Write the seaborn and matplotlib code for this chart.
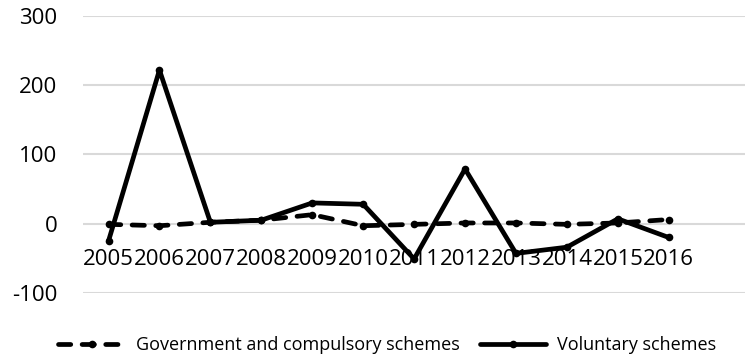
import matplotlib
matplotlib.use("Agg")
import matplotlib.pyplot as plt
import seaborn as sns
import pandas as pd

years = ["2005", "2006", "2007", "2008", "2009", "2010",
         "2011", "2012", "2013", "2014", "2015", "2016"]
government = [-1, -3, 2, 5, 13, -3, -1, 1, 1, -1, 1, 6]
voluntary = [-25, 222, 2, 5, 30, 28, -51, 79, -43, -34, 7, -20]
series_names = ["Government and compulsory schemes", "Voluntary schemes"]
y_ticks = [-100, 0, 100, 200, 300]

sns.set_theme(style="white")
plt.rcParams["font.family"] = ["Open Sans", "DejaVu Sans"]

df = pd.DataFrame({"year": years, "gov": government, "vol": voluntary})

fig = plt.figure(figsize=(7.55, 3.58), dpi=100)
ax = fig.add_axes([0.11, 0.182, 0.877, 0.773])

for y in y_ticks:
    ax.axhline(y, color="#d9d9d9", lw=1.5, zorder=0)

sns.lineplot(data=df, x="year", y="gov", ax=ax, color="black", lw=3.4,
             marker="o", markersize=5.5, markeredgewidth=0,
             label=series_names[0], sort=False)
gov_line = ax.lines[-1]
gov_line.set_dashes([2.6, 2.4])
gov_line.set_dash_capstyle("round")
sns.lineplot(data=df, x="year", y="vol", ax=ax, color="black", lw=3.4,
             marker="o", markersize=5.5, markeredgewidth=0,
             label=series_names[1], sort=False)

# one empty category slot is kept on the right of the category axis
ax.set_xlim(-0.5, len(years) + 0.5)
ax.set_ylim(-100, 300)
ax.set_yticks(y_ticks)
ax.set_yticklabels([str(v) for v in y_ticks])
ax.set_xlabel("")
ax.set_ylabel("")
for s in ax.spines.values():
    s.set_visible(False)
ax.spines["bottom"].set_position(("data", 0))
ax.tick_params(axis="both", length=0, labelsize=16, colors="black")
ax.tick_params(axis="x", pad=18)
ax.tick_params(axis="y", pad=18.5)

handles, labels = ax.get_legend_handles_labels()
ax.get_legend().remove()
leg_handles = [plt.Line2D([], [], color="black", lw=3.4, marker="o",
                          markersize=5.5, markeredgewidth=0),
               plt.Line2D([], [], color="black", lw=3.4, marker="o",
                          markersize=5.5, markeredgewidth=0)]
leg_handles[0].set_dashes([2.6, 2.4])
leg_handles[0].set_dash_capstyle("round")
fig.legend(leg_handles, labels, loc="lower center", bbox_to_anchor=(0.513, -0.035),
           ncol=2, frameon=False, fontsize=13, handlelength=3.7,
           columnspacing=1.1, handletextpad=0.6, labelcolor="black")

fig.savefig("out.png", dpi=100)
